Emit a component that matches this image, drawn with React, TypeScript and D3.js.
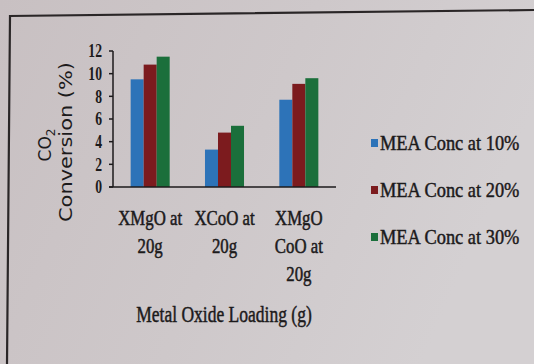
import React from "react";
import * as d3 from "d3";

// Categories (metal oxide loading) and the wrapped lines used for their labels
const categories = ["XMgO at 20g", "XCoO at 20g", "XMgO CoO at 20g"];
const categoryLines = [["XMgO at", "20g"], ["XCoO at", "20g"], ["XMgO", "CoO at", "20g"]];

// Series: CO2 conversion (%) for each MEA concentration
const seriesNames = ["MEA Conc at 10%", "MEA Conc at 20%", "MEA Conc at 30%"];
const mea10 = [9.5, 3.3, 7.7];
const mea20 = [10.8, 4.8, 9.1];
const mea30 = [11.5, 5.4, 9.6];
const seriesValues = [mea10, mea20, mea30];

const yTicks = [0, 2, 4, 6, 8, 10, 12];
const colors = ["#2d73b8", "#7c1b1e", "#1b6f3b"];

const W = 534;
const H = 364;
const SERIF = "'Liberation Serif', 'Times New Roman', serif";
const SANS = "'DejaVu Sans', Verdana, sans-serif";
const INK = "#1c1a1b";

export default function App() {
  const plot = { left: 113, right: 336, top: 51, bottom: 187 };

  const x0 = d3
    .scaleBand<string>()
    .domain(categories)
    .range([plot.left, plot.right])
    .paddingInner(0.475)
    .paddingOuter(0.2375);

  const x1 = d3
    .scaleBand<string>()
    .domain(seriesNames)
    .range([0, x0.bandwidth()])
    .padding(0);

  const y = d3.scaleLinear().domain([0, 12]).range([plot.bottom, plot.top]);

  const legendTop = 143;
  const legendStep = 47;

  return (
    <svg
      width={W}
      height={H}
      viewBox={`0 0 ${W} ${H}`}
      style={{ position: "fixed", left: 0, top: 0, display: "block" }}
    >
      <defs>
        <linearGradient id="paper" x1="0" y1="0" x2="1" y2="0.3">
          <stop offset="0" stopColor="#c8c0c2" />
          <stop offset="0.55" stopColor="#cec8ca" />
          <stop offset="1" stopColor="#d4d0d2" />
        </linearGradient>
      </defs>
      <rect x={0} y={0} width={W} height={H} fill="url(#paper)" />

      {/* chart frame */}
      <path d={`M7,${H} L10,16 L${W},10`} fill="none" stroke="#2a2627" strokeWidth={2.2} />

      {/* bars */}
      {categories.map((c, ci) => (
        <g key={c} transform={`translate(${x0(c)},0)`}>
          {seriesNames.map((s, si) => {
            const v = seriesValues[si][ci];
            return (
              <rect
                key={s}
                x={x1(s)}
                y={y(v)}
                width={x1.bandwidth()}
                height={y(0) - y(v)}
                fill={colors[si]}
              />
            );
          })}
        </g>
      ))}

      {/* y axis */}
      <line x1={plot.left} x2={plot.left} y1={y(12)} y2={y(0)} stroke={INK} strokeWidth={1.5} />
      {yTicks.map((t) => (
        <g key={t}>
          <line x1={plot.left - 4} x2={plot.left} y1={y(t)} y2={y(t)} stroke={INK} strokeWidth={1.5} />
          <text
            transform={`translate(102,${y(t)}) scale(0.72,1)`}
            textAnchor="end"
            dominantBaseline="central"
            fontFamily={SERIF}
            fontWeight="bold"
            fontSize={19}
            fill={INK}
          >
            {t}
          </text>
        </g>
      ))}

      {/* x axis */}
      <line x1={plot.left - 4} x2={plot.right} y1={y(0)} y2={y(0)} stroke={INK} strokeWidth={1.5} />
      {categories.map((c, ci) => {
        const cx = (x0(c) ?? 0) + x0.bandwidth() / 2;
        return categoryLines[ci].map((line, li) => (
          <text
            key={c + li}
            transform={`translate(${cx},${225 + li * 28}) scale(0.84,1)`}
            textAnchor="middle"
            fontFamily={SERIF}
            fontSize={20}
            fill={INK}
            stroke={INK}
            strokeWidth={0.5}
          >
            {line}
          </text>
        ));
      })}

      {/* axis titles */}
      <text
        transform={`translate(224,322) scale(0.73,1)`}
        textAnchor="middle"
        fontFamily={SERIF}
        fontSize={24}
        fill={INK}
        stroke={INK}
        strokeWidth={0.5}
      >
        Metal Oxide Loading (g)
      </text>
      <text
        transform={`translate(51,145) rotate(-90)`}
        textAnchor="middle"
        fontFamily={SANS}
        fontSize={17}
        fill={INK}
      >
        CO<tspan dy={4} fontSize={12}>2</tspan>
      </text>
      <text
        transform={`translate(72,142) rotate(-90)`}
        textAnchor="middle"
        fontFamily={SANS}
        fontSize={17}
        textLength={160}
        lengthAdjust="spacingAndGlyphs"
        fill={INK}
      >
        Conversion (%)
      </text>

      {/* legend */}
      {seriesNames.map((s, si) => {
        const cy = legendTop + si * legendStep;
        return (
          <g key={s}>
            <rect x={371} y={cy - 4} width={7} height={8} fill={colors[si]} />
            <text
              transform={`translate(380,${cy + 7}) scale(0.92,1)`}
              fontFamily={SERIF}
              fontSize={20}
              fill={INK}
              stroke={INK}
              strokeWidth={0.45}
            >
              {s}
            </text>
          </g>
        );
      })}
    </svg>
  );
}
